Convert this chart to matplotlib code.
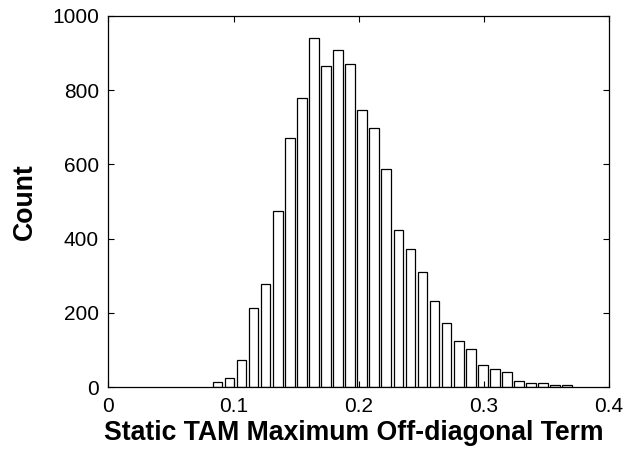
import numpy as np
import matplotlib
matplotlib.use("Agg")
import matplotlib.pyplot as plt

plt.rcParams['font.family'] = ['Liberation Sans', 'DejaVu Sans']

# Histogram of the maximum off-diagonal term: 30 equal-width bins
bin_lo = 0.0822
bin_hi = 0.3715
counts = [15, 26, 74, 213, 278, 473, 672, 779, 941, 865,
          908, 871, 747, 698, 587, 424, 372, 311, 231, 172,
          124, 102, 59, 48, 40, 17, 11, 11, 5, 6]
x_ticks = [0, 0.1, 0.2, 0.3, 0.4]
x_tick_labels = ['0', '0.1', '0.2', '0.3', '0.4']
y_ticks = [0, 200, 400, 600, 800, 1000]
x_label = 'Static TAM Maximum Off-diagonal Term'
y_label = 'Count'

edges = np.linspace(bin_lo, bin_hi, len(counts) + 1)
centers = 0.5 * (edges[:-1] + edges[1:])
width = edges[1] - edges[0]

fig = plt.figure(figsize=(6.26, 4.54), dpi=100)
ax = fig.add_axes([0.1733, 0.1471, 0.7995, 0.8183])
ax.bar(centers, counts, width=0.8 * width, color='white',
       edgecolor='black', linewidth=0.9)

ax.set_xlim(0, 0.4)
ax.set_ylim(0, 1000)
ax.set_xticks(x_ticks)
ax.set_xticklabels(x_tick_labels)
ax.set_yticks(y_ticks)
ax.tick_params(direction='in', top=True, right=True, length=4,
               width=0.8, labelsize=15, pad=7)
for s in ax.spines.values():
    s.set_linewidth(0.9)

ax.set_xlabel(x_label, fontsize=19.2, fontweight='bold')
ax.xaxis.set_label_coords(0.49, -0.088, transform=ax.transAxes)
ax.xaxis.label.set_verticalalignment('top')
ax.set_ylabel(y_label, fontsize=19.2, fontweight='bold', labelpad=10)

fig.savefig('out.png', dpi=100)
